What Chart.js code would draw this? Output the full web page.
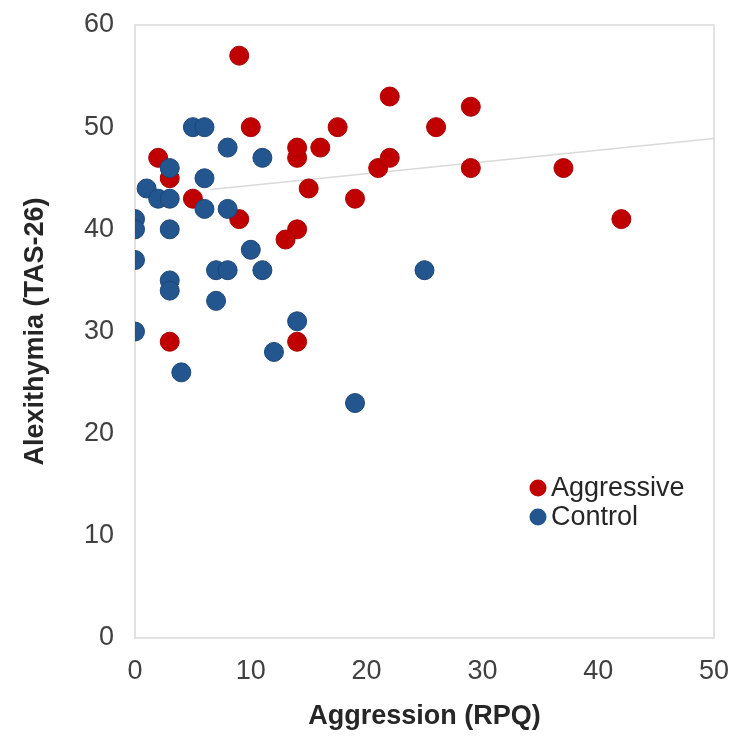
<!DOCTYPE html>
<html>
<head>
<meta charset="utf-8">
<script src="https://cdn.jsdelivr.net/npm/chart.js@4.4.1/dist/chart.umd.min.js"></script>
<style>
  html, body { margin: 0; padding: 0; background: #fff; }
  #wrap { width: 738px; height: 737px; }
  canvas { display: block; }
</style>
</head>
<body>
<div id="wrap"><canvas id="chart" width="738" height="737"></canvas></div>
<script>
"use strict";

const seriesNames = ['Aggressive', 'Control'];

const aggressiveX = [9, 10, 2, 3, 5, 9, 3, 14, 14, 13, 14, 14, 15, 16, 17.5, 19, 21, 22, 22, 26, 29, 29, 37, 42];
const aggressiveY = [57, 50, 47, 45, 43, 41, 29, 29, 40, 39, 47, 48, 44, 48, 50, 43, 46, 47, 53, 50, 52, 46, 46, 41];

const controlX = [5, 6, 3, 6, 8, 11, 1, 2, 3, 6, 8, 0, 0, 3, 10, 0, 7, 8, 11, 25, 3, 3, 7, 14, 0, 12, 4, 19];
const controlY = [50, 50, 46, 45, 48, 47, 44, 43, 43, 42, 42, 41, 40, 40, 38, 37, 36, 36, 36, 36, 35, 34, 33, 31, 30, 28, 26, 23];

// trendline end points
const trendX = [6.5, 50];
const trendY = [43.9, 48.9];

const xTicks = [0, 10, 20, 30, 40, 50];
const yTicks = [0, 10, 20, 30, 40, 50, 60];

const RED = '#C00000';
const BLUE = '#23558E';
const FONT = "'Liberation Sans', Arial, sans-serif";

const toPoints = (xs, ys) => xs.map((x, i) => ({ x: x, y: ys[i] }));

// light grey frame round the plot area
const frame = {
    id: 'frame',
    beforeDatasetsDraw(chart) {
        const { ctx, chartArea: a } = chart;
        ctx.save();
        ctx.strokeStyle = '#D9D9D9';
        ctx.lineWidth = 1.5;
        ctx.strokeRect(a.left, a.top, a.right - a.left, a.bottom - a.top);
        ctx.restore();
    }
};

// legend drawn inside the plot, lower right
const insideLegend = {
    id: 'insideLegend',
    afterDraw(chart) {
        const ctx = chart.ctx;
        const colors = [RED, BLUE];
        ctx.save();
        ctx.font = '27px ' + FONT;
        ctx.textBaseline = 'middle';
        ctx.textAlign = 'left';
        seriesNames.forEach((name, i) => {
            const y = 488 + i * 29;
            ctx.beginPath();
            ctx.arc(538, y, 8.5, 0, Math.PI * 2);
            ctx.fillStyle = colors[i];
            ctx.fill();
            ctx.fillStyle = '#262626';
            ctx.fillText(name, 551, y + 1);
        });
        ctx.restore();
    }
};

new Chart(document.getElementById('chart'), {
    type: 'scatter',
    data: {
        datasets: [
            {
                label: seriesNames[1],
                data: toPoints(controlX, controlY),
                backgroundColor: BLUE,
                borderColor: '#1D4677',
                borderWidth: 1,
                pointRadius: 9.5,
            },
            {
                label: seriesNames[0],
                data: toPoints(aggressiveX, aggressiveY),
                backgroundColor: RED,
                borderColor: '#A80000',
                borderWidth: 1,
                pointRadius: 9.5,
            },
            {
                label: 'Trend',
                type: 'line',
                data: toPoints(trendX, trendY),
                borderColor: '#D9D9D9',
                borderWidth: 1.5,
                pointRadius: 0,
                fill: false,
            }
        ]
    },
    options: {
        responsive: false,
        animation: false,
        devicePixelRatio: 1,
        layout: { padding: { top: 25, right: 24, left: 0, bottom: 0 } },
        plugins: {
            legend: { display: false },
            tooltip: { enabled: false },
        },
        scales: {
            x: {
                type: 'linear',
                min: 0,
                max: 50,
                afterBuildTicks: scale => { scale.ticks = xTicks.map(v => ({ value: v })); },
                afterFit: scale => {
                    scale.height = 99;
                    scale.paddingLeft = 0;
                    scale.paddingRight = 0;
                },
                grid: { display: false, drawTicks: false },
                border: { display: false },
                ticks: { padding: 17, color: '#404040', font: { family: FONT, size: 27 } },
                title: {
                    display: true,
                    text: 'Aggression (RPQ)',
                    color: '#262626',
                    font: { family: FONT, size: 27, weight: 'bold' },
                    padding: { top: 0, bottom: 4 }
                }
            },
            y: {
                type: 'linear',
                min: 0,
                max: 60,
                afterBuildTicks: scale => { scale.ticks = yTicks.map(v => ({ value: v })); },
                afterFit: scale => {
                    scale.width = 135;
                    scale.paddingTop = 0;
                    scale.paddingBottom = 0;
                },
                grid: { display: false, drawTicks: false },
                border: { display: false },
                ticks: { padding: 21, color: '#404040', font: { family: FONT, size: 27 } },
                title: {
                    display: true,
                    text: 'Alexithymia (TAS-26)',
                    color: '#262626',
                    font: { family: FONT, size: 27, weight: 'bold' },
                    padding: { top: 19, bottom: 0 }
                }
            }
        }
    },
    plugins: [frame, insideLegend]
});
</script>
</body>
</html>
